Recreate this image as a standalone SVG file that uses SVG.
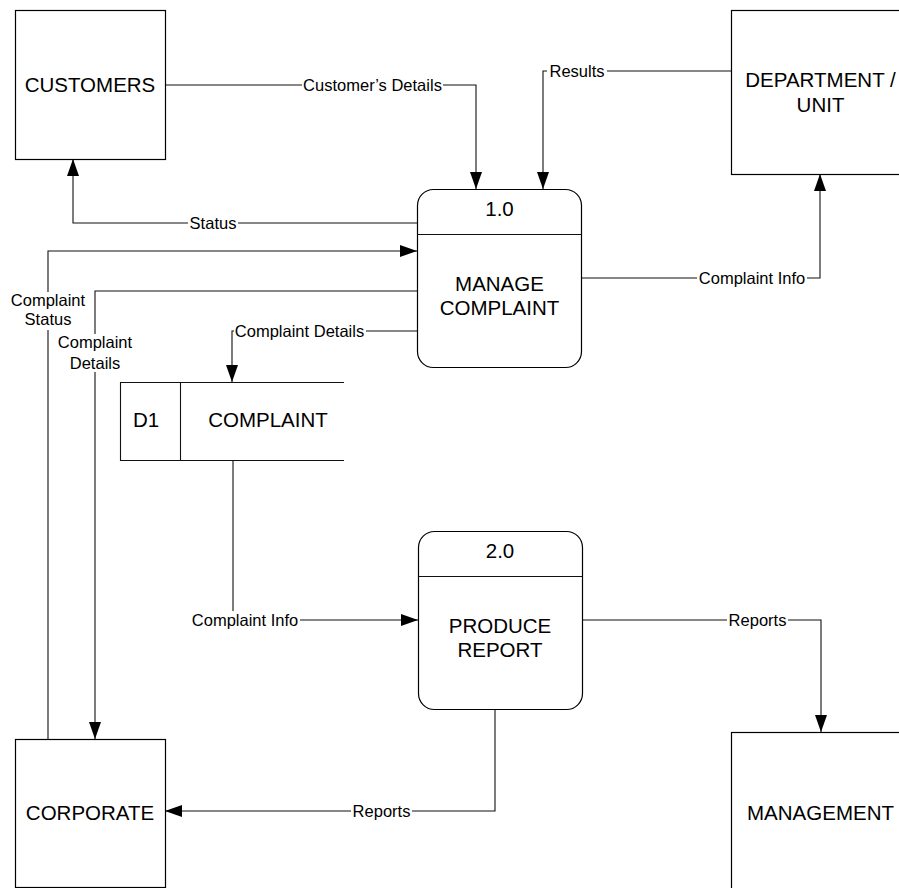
<svg xmlns="http://www.w3.org/2000/svg" width="899" height="888" viewBox="0 0 899 888">
  <defs>
    <marker id="arrow" markerUnits="userSpaceOnUse" markerWidth="18" markerHeight="12" refX="17" refY="6" orient="auto">
      <path d="M0,0 L17,6 L0,12 z" fill="#000"/>
    </marker>
    <style>
      .box { fill: #fff; stroke: #000; stroke-width: 1.2; }
      .line { fill: none; stroke: #111; stroke-width: 1.1; }
      .flow { fill: none; stroke: #111; stroke-width: 1.1; marker-end: url(#arrow); }
      .node { font-family: "Liberation Sans", Arial, sans-serif; font-size: 20.5px; fill: #000; text-anchor: middle; }
      .lbl { font-family: "Liberation Sans", Arial, sans-serif; font-size: 16.5px; fill: #000; text-anchor: middle; }
      .bg { fill: #fff; stroke: none; }
    </style>
  </defs>
  <rect width="899" height="888" fill="#fff"/>

  <!-- data flows -->
  <g id="connectors">
    <path class="flow" d="M165,85 H476 V189"/>
    <path class="flow" d="M731,71 H543 V189"/>
    <path class="flow" d="M417,223 H73 V159"/>
    <path class="flow" d="M48,739 V251 H417"/>
    <path class="flow" d="M417,291 H95 V739"/>
    <path class="flow" d="M417,331 H232 V382"/>
    <path class="flow" d="M581,278 H820 V174"/>
    <path class="flow" d="M233,460 V620 H418"/>
    <path class="flow" d="M582,620 H821 V732"/>
    <path class="flow" d="M495,709 V811 H165"/>

    <rect class="bg" x="302" y="76" width="141" height="18"/>
    <text class="lbl" x="372.5" y="91">Customer’s Details</text>
    <rect class="bg" x="547" y="62" width="60" height="18"/>
    <text class="lbl" x="577" y="77">Results</text>
    <rect class="bg" x="188" y="214" width="50" height="18"/>
    <text class="lbl" x="213" y="228.5">Status</text>
    <rect class="bg" x="697" y="269" width="110" height="18"/>
    <text class="lbl" x="752" y="284">Complaint Info</text>
    <rect class="bg" x="9" y="292" width="78" height="38"/>
    <text class="lbl" x="48" y="306">Complaint</text>
    <text class="lbl" x="48" y="325">Status</text>
    <rect class="bg" x="56" y="334" width="78" height="38"/>
    <text class="lbl" x="95" y="348">Complaint</text>
    <text class="lbl" x="95" y="369">Details</text>
    <rect class="bg" x="234" y="322" width="132" height="18"/>
    <text class="lbl" x="299.5" y="337">Complaint Details</text>
    <rect class="bg" x="190" y="611" width="110" height="18"/>
    <text class="lbl" x="245" y="626">Complaint Info</text>
    <rect class="bg" x="727" y="611" width="61" height="18"/>
    <text class="lbl" x="757.5" y="626">Reports</text>
    <rect class="bg" x="351" y="802" width="61" height="18"/>
    <text class="lbl" x="381.5" y="817">Reports</text>
  </g>

  <!-- external entities -->
  <g id="customers">
    <rect class="box" x="15.5" y="10.5" width="150" height="149"/>
    <text class="node" x="90" y="92">CUSTOMERS</text>
  </g>
  <g id="department">
    <rect class="box" x="731.5" y="10.5" width="180" height="164"/>
    <text class="node" x="820.5" y="87">DEPARTMENT /</text>
    <text class="node" x="820.5" y="112">UNIT</text>
  </g>
  <g id="corporate">
    <rect class="box" x="15.5" y="739.5" width="150" height="148"/>
    <text class="node" x="90" y="819.5">CORPORATE</text>
  </g>
  <g id="management">
    <rect class="box" x="731.5" y="732.5" width="180" height="170"/>
    <text class="node" x="820.5" y="820">MANAGEMENT</text>
  </g>

  <!-- processes -->
  <g id="process-1">
    <rect class="box" x="417.5" y="189.5" width="164" height="178" rx="16" ry="16"/>
    <line class="line" x1="417.5" y1="234.5" x2="581.5" y2="234.5"/>
    <text class="node" x="499.5" y="216">1.0</text>
    <text class="node" x="499.5" y="290.5">MANAGE</text>
    <text class="node" x="499.5" y="315">COMPLAINT</text>
  </g>
  <g id="process-2">
    <rect class="box" x="418.5" y="531.5" width="164" height="178" rx="16" ry="16"/>
    <line class="line" x1="418.5" y1="576.5" x2="582.5" y2="576.5"/>
    <text class="node" x="500" y="557.5">2.0</text>
    <text class="node" x="500" y="632.5">PRODUCE</text>
    <text class="node" x="500" y="657">REPORT</text>
  </g>

  <!-- data store -->
  <g id="store-d1">
    <path class="line" d="M344,382.5 H120.5 V460.5 H344" fill="#fff"/>
    <line class="line" x1="180.5" y1="382.5" x2="180.5" y2="460.5"/>
    <text class="node" x="146" y="427">D1</text>
    <text class="node" x="268" y="427">COMPLAINT</text>
  </g>
</svg>
